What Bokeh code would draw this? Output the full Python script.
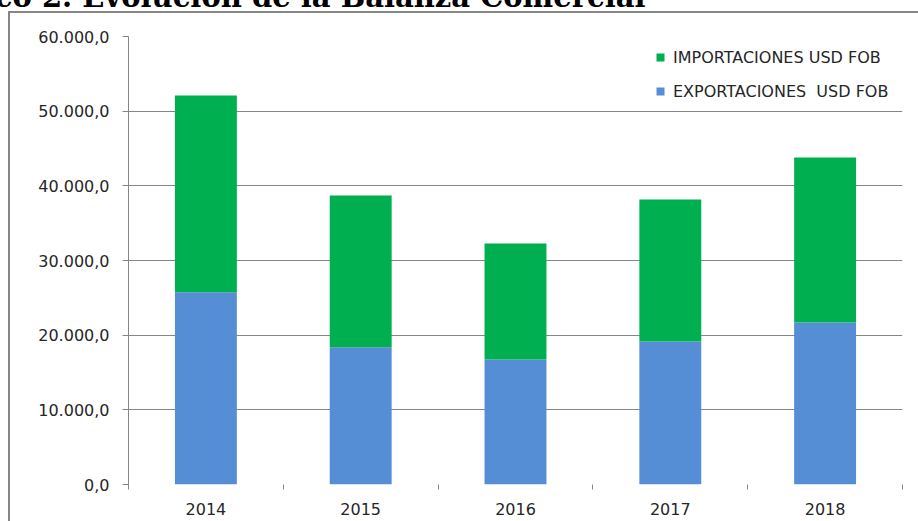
import numpy as np
from bokeh.plotting import figure
from bokeh.models import (Range1d, FixedTicker, LinearAxis, Legend, LegendItem, Label,
                          ColumnDataSource, Grid)
from bokeh.embed import file_html
from bokeh.resources import INLINE

# ---- data ----
years = ["2014", "2015", "2016", "2017", "2018"]
exportaciones = [25750, 18390, 16740, 19150, 21700]
importaciones = [26350, 20310, 15540, 19020, 22100]
y_ticks = [0, 10000, 20000, 30000, 40000, 50000, 60000]
series_names = ["IMPORTACIONES USD FOB", "EXPORTACIONES  USD FOB"]
title_text = "Gráfico 2. Evolución de la Balanza Comercial"

GRAY = "#868686"
TXT = "#262626"
FONT = "DejaVu Sans"


def es_fmt(v):
    s = f"{v:,.1f}"
    return s.replace(",", "#").replace(".", ",").replace("#", ".")


x_centers = [i + 0.5 for i in range(len(years))]
x_bounds = list(range(len(years) + 1))

p = figure(width=918, height=521, output_backend="svg", toolbar_location=None,
           x_range=Range1d(0, len(years)), y_range=Range1d(y_ticks[0], y_ticks[-1]),
           x_axis_type=None, y_axis_type=None,
           min_border_left=128, min_border_right=16, min_border_top=36, min_border_bottom=37)
p.outline_line_color = None
p.background_fill_color = None
p.border_fill_color = None
# outer chart frame: left and top edges (drawn behind the transparent canvas)
p.styles = {
    "background-color": "white",
    "background-image": f"linear-gradient({GRAY}, {GRAY}), linear-gradient({GRAY}, {GRAY})",
    "background-size": "2px 100%, 100% 2px",
    "background-position": "8px 11px, 8px 11px",
    "background-repeat": "no-repeat",
}

# y axis
yaxis = LinearAxis(ticker=FixedTicker(ticks=y_ticks, minor_ticks=[]),
                   major_label_overrides={t: es_fmt(t) for t in y_ticks},
                   axis_line_color=GRAY, axis_line_width=1,
                   major_tick_line_color=GRAY, major_tick_out=6, major_tick_in=0,
                   minor_tick_out=0, minor_tick_in=0, minor_tick_line_color=None,
                   major_label_text_font=FONT, major_label_text_font_size="16px",
                   major_label_text_color=TXT, major_label_standoff=13)
p.add_layout(yaxis, "left")

# x axis: labels at centres, ticks at category boundaries
xaxis = LinearAxis(ticker=FixedTicker(ticks=x_centers, minor_ticks=x_bounds),
                   major_label_overrides={c: y for c, y in zip(x_centers, years)},
                   axis_line_color=None,
                   major_tick_line_color=None, major_tick_out=0, major_tick_in=0,
                   minor_tick_line_color=GRAY, minor_tick_out=5, minor_tick_in=0,
                   major_label_text_font=FONT, major_label_text_font_size="16px",
                   major_label_text_color=TXT, major_label_standoff=13)
p.add_layout(xaxis, "below")

grid = Grid(dimension=1, ticker=FixedTicker(ticks=y_ticks[1:]),
            grid_line_color=GRAY, grid_line_width=1)
p.add_layout(grid)

src = ColumnDataSource(dict(x=x_centers, exp=exportaciones, imp=importaciones))
rs = p.vbar_stack(["exp", "imp"], x="x", width=0.4, color=["#558ED5", "#00B050"],
                  line_color=None, source=src)

legend = Legend(items=[LegendItem(label=series_names[0], renderers=[rs[1]]),
                       LegendItem(label=series_names[1], renderers=[rs[0]])],
                location=(527, 383), background_fill_alpha=0, border_line_color=None,
                padding=0, margin=0, spacing=14, glyph_width=10, glyph_height=10,
                label_standoff=8, label_height=20, label_text_font=FONT,
                label_text_font_size="16px", label_text_color=TXT)
p.add_layout(legend)

# title (partly above the visible page, as in the reference)
title = Label(x=517, y=40, x_units="screen", y_units="screen", text=title_text,
              text_align="right", text_baseline="alphabetic", text_font="DejaVu Serif",
              text_font_style="bold", text_font_size="29px", text_color="black",
              background_fill_color=None, border_line_color=None)
p.add_layout(title, "above")

open("out.html", "w").write(file_html(p, INLINE))
